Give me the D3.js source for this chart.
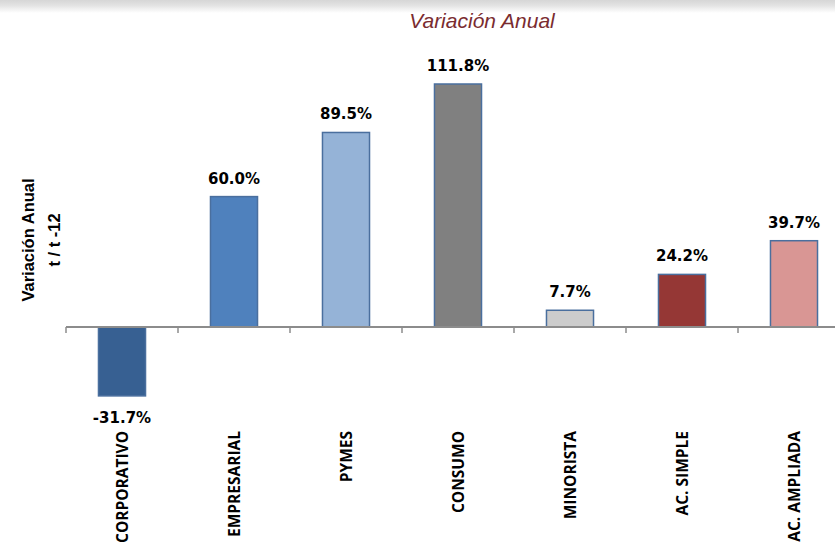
<!DOCTYPE html>
<html>
<head>
<meta charset="utf-8">
<script src="https://cdn.jsdelivr.net/npm/d3@7"></script>
<style>
  html, body { margin: 0; padding: 0; background: #ffffff; }
  svg { display: block; }
</style>
</head>
<body>
<svg id="chart" width="835" height="544"></svg>
<script>
// ---- data ----
const categories = ["CORPORATIVO", "EMPRESARIAL", "PYMES", "CONSUMO", "MINORISTA", "AC. SIMPLE", "AC. AMPLIADA"];
const values = [-31.7, 60.0, 89.5, 111.8, 7.7, 24.2, 39.7];
const valueLabels = ["-31.7%", "60.0%", "89.5%", "111.8%", "7.7%", "24.2%", "39.7%"];
const barColors = ["#376092", "#4F81BD", "#95B3D7", "#808080", "#CCCCCC", "#953735", "#D99694"];
const titleText = "Variación Anual";
const yLabelLines = ["Variación Anual", "t / t -12"];

// ---- layout ----
const svg = d3.select("#chart");
const W = 835, H = 544;

// top gray band
const defs = svg.append("defs");
const grad = defs.append("linearGradient").attr("id", "topband")
  .attr("x1", 0).attr("y1", 0).attr("x2", 0).attr("y2", 1);
grad.append("stop").attr("offset", "0%").attr("stop-color", "#d6d6d6");
grad.append("stop").attr("offset", "40%").attr("stop-color", "#e2e2e2");
grad.append("stop").attr("offset", "100%").attr("stop-color", "#ffffff");
svg.append("rect").attr("x", 0).attr("y", 0).attr("width", W).attr("height", 13)
  .attr("fill", "url(#topband)");

// scales
const x = d3.scaleBand().domain(categories).range([66, 850]).paddingInner(0).paddingOuter(0);
const y = d3.scaleLinear().domain([0, 111.8]).range([327, 84]);
const barW = x.bandwidth() * 0.42;

// title
svg.append("text")
  .attr("x", 482).attr("y", 28)
  .attr("text-anchor", "middle")
  .attr("font-family", "'Liberation Sans', Arial, sans-serif")
  .attr("font-style", "italic")
  .attr("font-size", 21)
  .attr("fill", "#7A2C30")
  .text(titleText);

// y-axis label (rotated)
const ylab = svg.append("g").attr("font-family", "'Liberation Sans', Arial, sans-serif")
  .attr("font-weight", "bold").attr("font-size", 16.5).attr("fill", "#000");
ylab.append("text").attr("transform", "translate(34,240) rotate(-90)")
  .attr("text-anchor", "middle").text(yLabelLines[0]);
ylab.append("text").attr("transform", "translate(60,240) rotate(-90)")
  .attr("text-anchor", "middle").text(yLabelLines[1]);

// bars
const bars = svg.append("g");
bars.selectAll("rect").data(values).enter().append("rect")
  .attr("x", (d, i) => x(categories[i]) + x.bandwidth() / 2 - barW / 2)
  .attr("y", d => Math.min(y(d), y(0)))
  .attr("width", barW)
  .attr("height", d => Math.abs(y(d) - y(0)))
  .attr("fill", (d, i) => barColors[i])
  .attr("stroke", "#4A6F9E")
  .attr("stroke-width", 1.5);

// x axis line + ticks
const gx = svg.append("g").attr("transform", `translate(0,${y(0)})`);
gx.append("line").attr("x1", 66).attr("x2", W).attr("y1", 0).attr("y2", 0)
  .attr("stroke", "#8C8C8C").attr("stroke-width", 2);
const tickPos = categories.map(c => x(c));
gx.selectAll("line.tick").data(tickPos).enter().append("line")
  .attr("class", "tick")
  .attr("x1", d => d).attr("x2", d => d).attr("y1", 0).attr("y2", 6)
  .attr("stroke", "#8C8C8C").attr("stroke-width", 1.5);

// value labels
svg.append("g").selectAll("text").data(values).enter().append("text")
  .attr("x", (d, i) => x(categories[i]) + x.bandwidth() / 2)
  .attr("y", d => d >= 0 ? y(d) - 13 : y(d) + 27)
  .attr("text-anchor", "middle")
  .attr("font-family", "'DejaVu Sans', Verdana, sans-serif")
  .attr("font-weight", "bold")
  .attr("font-size", 15)
  .attr("fill", "#000")
  .text((d, i) => valueLabels[i]);

// category labels (rotated)
svg.append("g").selectAll("text").data(categories).enter().append("text")
  .attr("transform", d => `translate(${x(d) + x.bandwidth() / 2},431) rotate(-90)`)
  .attr("text-anchor", "end")
  .attr("dy", "0.36em")
  .attr("font-family", "'Open Sans', sans-serif")
  .attr("font-weight", "bold")
  .attr("font-size", 15.5)
  .attr("fill", "#000")
  .text(d => d);
</script>
</body>
</html>
